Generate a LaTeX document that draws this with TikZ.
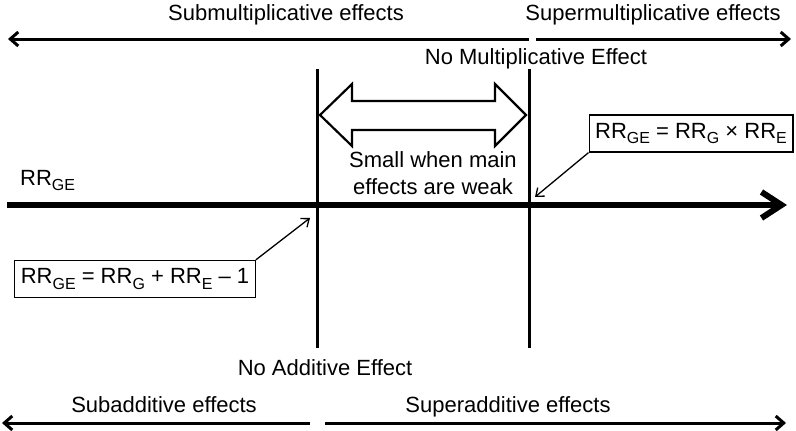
\documentclass[tikz,border=0pt]{standalone}
\usepackage{fontspec}
\setmainfont{Liberation Sans}
\usetikzlibrary{arrows.meta}
\newcommand\lowsub[1]{\raisebox{-0.25em}{\fontsize{16pt}{16pt}\selectfont #1}}
\begin{document}
\begin{tikzpicture}[x=1pt,y=-1pt,
  lbl/.style={font=\fontsize{22pt}{27pt}\selectfont, inner sep=0pt},
  rangearrow/.style={line width=3pt, -{Straight Barb[length=8pt,width=14pt]}},
  mainarrow/.style={line width=6pt, -{Straight Barb[length=20pt,width=26pt]}},
  divider/.style={line width=3pt},
  eqbox/.style={draw, line width=1.3pt, font=\fontsize{22pt}{26pt}\selectfont, inner xsep=6pt, inner ysep=5pt, minimum height=37pt},
  pointer/.style={line width=1.3pt, -{Straight Barb[length=7pt,width=11pt]}},
  blockarrow/.style={draw, line width=2.2pt, line join=miter}]
\useasboundingbox (0,0) rectangle (796,431);

% coordinates
\coordinate (tl) at (8,39);
\coordinate (tm1) at (529,39);
\coordinate (tm2) at (536,39);
\coordinate (tr) at (791,39);
\coordinate (bl) at (2,423);
\coordinate (bm1) at (310,423);
\coordinate (bm2) at (325,423);
\coordinate (br) at (786,423);
\coordinate (ms) at (7,205);
\coordinate (me) at (787,205);
\coordinate (v1t) at (317,69);
\coordinate (v1b) at (317,348);
\coordinate (v2t) at (529,69);
\coordinate (v2b) at (529,348);
\coordinate (pm) at (535,197);
\coordinate (pa) at (310,218);

% top range arrows
\draw[rangearrow] (tm1) -- (tl);
\draw[rangearrow] (tm2) -- (tr);
\node[lbl, anchor=base] (subm) at (286,20) {Submultiplicative effects};
\node[lbl, anchor=base] (supm) at (653,20) {Supermultiplicative effects};
\node[lbl, anchor=base] (nomult) at (536,64) {No Multiplicative Effect};

% vertical dividers
\draw[divider] (v1t) -- (v1b);
\draw[divider] (v2t) -- (v2b);

% main axis
\draw[mainarrow] (ms) -- (me);
\node[lbl, anchor=base west] (rrge) at (20,185) {RR\lowsub{GE}};

% double block arrow
\draw[blockarrow] (320,115) -- (352,84) -- (352,101) -- (495,101) -- (495,84)
  -- (526,115) -- (495,146) -- (495,130) -- (352,130) -- (352,146) -- cycle;
\node[lbl, align=center] (small) at (433,173) {Small when main\\effects are weak};

% equation boxes
\node[eqbox] (mult) at (691,133.5) {RR\lowsub{GE} = RR\lowsub{G} × RR\lowsub{E}};
\node[eqbox] (add) at (135,279) {RR\lowsub{GE} = RR\lowsub{G} + RR\lowsub{E} – 1};
\draw[pointer] (mult.south west) -- (pm);
\draw[pointer] (add.north east) -- (pa);

% bottom
\node[lbl, anchor=base] (noadd) at (325,375) {No Additive Effect};
\draw[rangearrow] (bm1) -- (bl);
\draw[rangearrow] (bm2) -- (br);
\node[lbl, anchor=base] (suba) at (164,412) {Subadditive effects};
\node[lbl, anchor=base] (supa) at (508,412) {Superadditive effects};
\end{tikzpicture}
\end{document}
